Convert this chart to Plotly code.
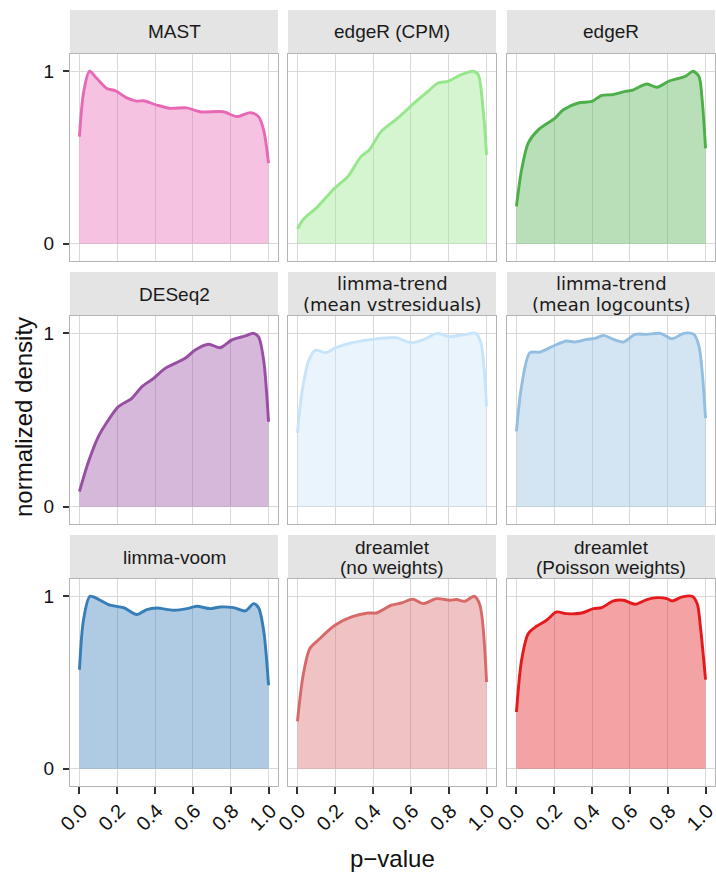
import plotly.graph_objects as go

W, H = 716, 873

methods = ["MAST", "edgeR (CPM)", "edgeR",
           "DESeq2", "limma-trend (mean vstresiduals)", "limma-trend (mean logcounts)",
           "limma-voom", "dreamlet (no weights)", "dreamlet (Poisson weights)"]

strip_lines = [["MAST"], ["edgeR (CPM)"], ["edgeR"],
               ["DESeq2"], ["limma-trend", "(mean vstresiduals)"], ["limma-trend", "(mean logcounts)"],
               ["limma-voom"], ["dreamlet", "(no weights)"], ["dreamlet", "(Poisson weights)"]]

line_colors = ["rgb(231,104,180)", "rgb(150,230,140)", "rgb(77,175,74)",
               "rgb(152,78,163)", "rgb(200,228,250)", "rgb(145,190,225)",
               "rgb(55,126,184)", "rgb(215,105,105)", "rgb(228,26,28)"]

x_mast = [0, 0.021, 0.053, 0.092, 0.145, 0.19, 0.25, 0.303, 0.339, 0.409, 0.48, 0.568, 0.638, 0.762, 0.832, 0.903, 0.947, 0.974, 1.0]
y_mast = [0.621, 0.871, 1.0, 0.958, 0.9, 0.887, 0.846, 0.827, 0.829, 0.804, 0.785, 0.788, 0.765, 0.765, 0.737, 0.76, 0.737, 0.66, 0.467]

x_edger_cpm = [0, 0.035, 0.106, 0.195, 0.265, 0.336, 0.38, 0.442, 0.53, 0.637, 0.69, 0.743, 0.796, 0.867, 0.929, 0.956, 0.982, 1.0]
y_edger_cpm = [0.087, 0.146, 0.214, 0.32, 0.388, 0.505, 0.544, 0.65, 0.728, 0.835, 0.883, 0.932, 0.942, 0.98, 1.0, 0.98, 0.777, 0.515]

x_edger = [0, 0.027, 0.062, 0.115, 0.204, 0.248, 0.327, 0.398, 0.451, 0.504, 0.575, 0.611, 0.69, 0.743, 0.805, 0.894, 0.934, 0.965, 0.982, 1.0]
y_edger = [0.217, 0.427, 0.583, 0.66, 0.728, 0.777, 0.816, 0.825, 0.86, 0.864, 0.883, 0.889, 0.926, 0.907, 0.942, 0.971, 1.0, 0.97, 0.835, 0.553]

x_deseq2 = [0, 0.048, 0.1, 0.153, 0.206, 0.277, 0.33, 0.392, 0.453, 0.559, 0.612, 0.683, 0.745, 0.806, 0.877, 0.92, 0.947, 0.974, 1.0]
y_deseq2 = [0.087, 0.26, 0.404, 0.5, 0.577, 0.625, 0.692, 0.74, 0.798, 0.856, 0.904, 0.937, 0.917, 0.962, 0.985, 1.0, 0.98, 0.846, 0.49]

x_trend_vst = [0, 0.026, 0.062, 0.097, 0.15, 0.203, 0.291, 0.397, 0.52, 0.6, 0.661, 0.74, 0.802, 0.89, 0.943, 0.97, 1.0]
y_trend_vst = [0.425, 0.676, 0.85, 0.903, 0.888, 0.917, 0.946, 0.965, 0.975, 0.946, 0.961, 1.0, 0.981, 0.994, 1.0, 0.946, 0.579]

x_trend_log = [0, 0.027, 0.071, 0.124, 0.195, 0.265, 0.31, 0.372, 0.416, 0.46, 0.513, 0.566, 0.628, 0.69, 0.761, 0.823, 0.885, 0.938, 0.965, 1.0]
y_trend_log = [0.434, 0.695, 0.888, 0.892, 0.927, 0.956, 0.95, 0.965, 0.971, 0.988, 0.965, 0.95, 0.994, 0.994, 1.0, 0.969, 1.0, 0.994, 0.927, 0.511]

x_voom = [0, 0.021, 0.056, 0.109, 0.162, 0.233, 0.303, 0.356, 0.409, 0.497, 0.568, 0.621, 0.691, 0.744, 0.815, 0.877, 0.921, 0.947, 0.974, 1.0]
y_voom = [0.574, 0.86, 1.0, 0.977, 0.948, 0.934, 0.894, 0.923, 0.932, 0.919, 0.928, 0.942, 0.928, 0.938, 0.934, 0.915, 0.957, 0.934, 0.803, 0.484]

x_dream_nw = [0, 0.03, 0.065, 0.109, 0.198, 0.286, 0.374, 0.418, 0.497, 0.55, 0.612, 0.665, 0.735, 0.806, 0.841, 0.885, 0.935, 0.965, 1.0]
y_dream_nw = [0.275, 0.542, 0.696, 0.745, 0.832, 0.88, 0.903, 0.903, 0.948, 0.961, 0.983, 0.957, 0.986, 0.977, 0.981, 0.971, 1.0, 0.948, 0.503]

x_dream_pw = [0, 0.027, 0.062, 0.106, 0.159, 0.212, 0.265, 0.345, 0.407, 0.451, 0.513, 0.566, 0.628, 0.69, 0.743, 0.796, 0.823, 0.876, 0.929, 0.956, 0.973, 1.0]
y_dream_pw = [0.329, 0.629, 0.783, 0.826, 0.861, 0.909, 0.899, 0.903, 0.928, 0.934, 0.973, 0.977, 0.954, 0.981, 0.992, 0.986, 0.973, 0.996, 1.0, 0.957, 0.822, 0.516]

series_x = [x_mast, x_edger_cpm, x_edger, x_deseq2, x_trend_vst, x_trend_log, x_voom, x_dream_nw, x_dream_pw]
series_y = [y_mast, y_edger_cpm, y_edger, y_deseq2, y_trend_vst, y_trend_log, y_voom, y_dream_nw, y_dream_pw]

x_tick_vals = [0, 0.2, 0.4, 0.6, 0.8, 1.0]
x_tick_text = ["0.0", "0.2", "0.4", "0.6", "0.8", "1.0"]
y_tick_vals = [0, 1]
y_tick_text = ["0", "1"]

# layout geometry (pixels)
col_px = [(70, 278), (288, 496), (507, 715)]
row_panel_px = [(54, 261), (316, 524), (579, 786)]
row_strip_px = [(10, 54), (272, 316), (535, 579)]

def px2x(p):
    return p / W

def px2y(p):
    return 1 - p / H

def fill_of(rgb, a=0.4):
    return rgb.replace("rgb(", "rgba(").replace(")", ",%s)" % a)

SANS = "Liberation Sans, Arial, Helvetica, sans-serif"
fig = go.Figure()
layout = dict(template="none", width=W, height=H, margin=dict(l=0, r=0, t=0, b=0, autoexpand=False),
              paper_bgcolor="white", plot_bgcolor="white", showlegend=False,
              font=dict(family=SANS, color="#111111"))
shapes = []
annotations = []

for i in range(9):
    r, c = divmod(i, 3)
    idx = i + 1
    xa = "xaxis" if idx == 1 else "xaxis%d" % idx
    ya = "yaxis" if idx == 1 else "yaxis%d" % idx
    xref = "x" if idx == 1 else "x%d" % idx
    yref = "y" if idx == 1 else "y%d" % idx
    x0, x1 = col_px[c]
    y0, y1 = row_panel_px[r]
    layout[xa] = dict(domain=[px2x(x0), px2x(x1)], range=[-0.05, 1.05], anchor=yref,
                      automargin=False, ticklabeloverflow="allow",
                      tickvals=x_tick_vals, ticktext=x_tick_text if r == 2 else None,
                      showticklabels=(r == 2), ticks="outside" if r == 2 else "",
                      ticklen=7, tickwidth=2, tickcolor="#333333",
                      tickangle=-45, tickfont=dict(size=20, color="#111111"),
                      showgrid=True, gridcolor="#d9d9d9", gridwidth=1.2,
                      zeroline=False, showline=True, linecolor="#b5b5b5", linewidth=1.4,
                      mirror=True, fixedrange=True)
    if r == 2:
        layout[xa]["ticklabelstandoff"] = -3
        layout[xa]["ticklabelshift"] = 2
    layout[ya] = dict(domain=[px2y(y1), px2y(y0)], range=[-0.1, 1.1], anchor=xref,
                      automargin=False,
                      tickvals=y_tick_vals, ticktext=y_tick_text if c == 0 else None,
                      showticklabels=(c == 0), ticks="outside" if c == 0 else "",
                      ticklen=6, tickwidth=2, tickcolor="#333333",
                      tickfont=dict(size=19, color="#111111"),
                      showgrid=True, gridcolor="#d9d9d9", gridwidth=1.2,
                      zeroline=False, showline=True, linecolor="#b5b5b5", linewidth=1.4,
                      mirror=True, fixedrange=True)
    if c == 0:
        layout[ya]["ticklabelstandoff"] = 5
    fig.add_trace(go.Scatter(x=series_x[i], y=series_y[i], mode="lines",
                             line=dict(color=line_colors[i], width=2.9, shape="spline", smoothing=0.8),
                             fill="tozeroy", fillcolor=fill_of(line_colors[i]),
                             xaxis=xref, yaxis=yref, hoverinfo="skip"))
    # strip
    s0, s1 = row_strip_px[r]
    shapes.append(dict(type="rect", xref="paper", yref="paper",
                       x0=px2x(x0), x1=px2x(x1), y0=px2y(s1), y1=px2y(s0),
                       fillcolor="#e4e4e4", line=dict(width=0), layer="below"))
    lines = strip_lines[i]
    fam = "DejaVu Sans" if methods[i].startswith("limma-trend") else SANS
    fsize = 18 if methods[i].startswith("limma-trend") else 19
    cx = (x0 + x1) / 2
    if len(lines) == 1:
        centers = [(s0 + s1) / 2]
    else:
        mid = (s0 + s1) / 2
        centers = [mid - 10, mid + 10]
    for txt, cy in zip(lines, centers):
        annotations.append(dict(text=txt, x=px2x(cx), y=px2y(cy), xref="paper", yref="paper",
                                xanchor="center", yanchor="middle", showarrow=False,
                                font=dict(family=fam, size=fsize, color="#1a1a1a")))

annotations.append(dict(text="p\u2212value", x=px2x(392), y=px2y(858), xref="paper", yref="paper",
                        xanchor="center", yanchor="middle", showarrow=False,
                        font=dict(family=SANS, size=24, color="#111111")))
annotations.append(dict(text="normalized density", x=px2x(23), y=px2y(417), xref="paper", yref="paper",
                        xanchor="center", yanchor="middle", showarrow=False, textangle=-90,
                        font=dict(family=SANS, size=24, color="#111111")))

layout["shapes"] = shapes
layout["annotations"] = annotations
fig.update_layout(**layout)
fig.write_html("out.html", config={"displayModeBar": False},
               post_script="document.body.style.margin='0px';document.body.style.overflow='hidden';")
